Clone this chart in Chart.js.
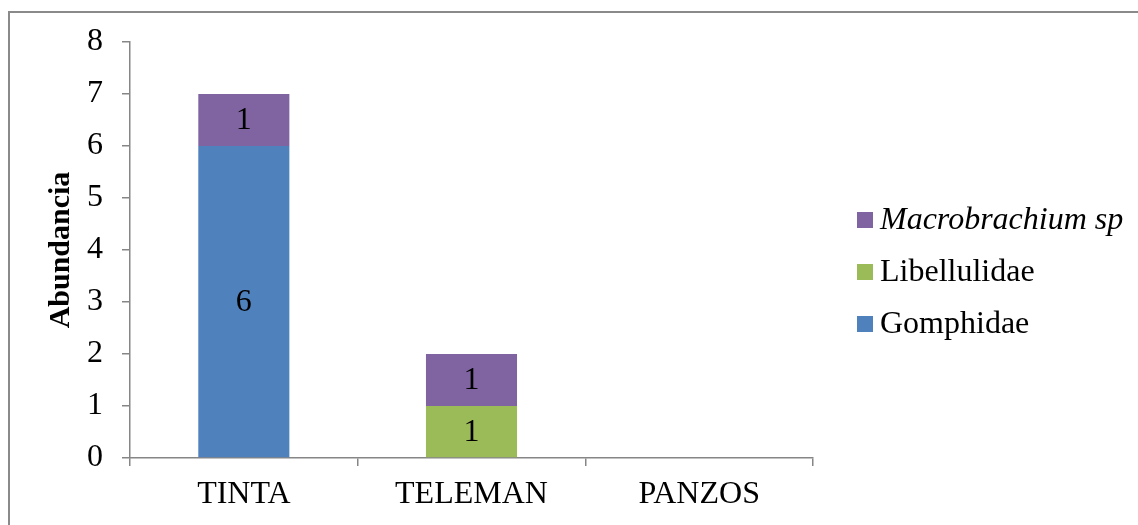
<!DOCTYPE html>
<html>
<head>
<meta charset="utf-8">
<script src="https://cdn.jsdelivr.net/npm/chart.js@4.4.1/dist/chart.umd.min.js"></script>
<style>
  html, body { margin: 0; padding: 0; background: #fff; }
  body { width: 1138px; height: 525px; overflow: hidden; position: relative; }
  #frame { position: absolute; left: 8px; top: 11px; width: 1150px; height: 540px;
           border: 2px solid #8a8a8a; box-sizing: border-box; }
  #wrap { position: absolute; left: 0; top: 0; width: 1138px; height: 525px; }
</style>
</head>
<body>
<div id="frame"></div>
<div id="wrap"><canvas id="c"></canvas></div>
<script>
// Sampling sites and abundance per family
const sites = ['TINTA', 'TELEMAN', 'PANZOS'];
const gomphidae = [6, 0, 0];
const libellulidae = [0, 1, 0];
const macrobrachium = [1, 1, 0];
const yTicks = [0, 1, 2, 3, 4, 5, 6, 7, 8];

const SERIF = "'Liberation Serif', 'Times New Roman', serif";
const FS = 32;
const AXIS = '#868686';

// Writes each non-zero segment's value in its middle
const segmentLabels = {
  id: 'segmentLabels',
  afterDatasetsDraw(chart) {
    const ctx = chart.ctx;
    ctx.save();
    ctx.font = FS + 'px ' + SERIF;
    ctx.fillStyle = '#000';
    ctx.textAlign = 'center';
    ctx.textBaseline = 'middle';
    chart.data.datasets.forEach((ds, i) => {
      chart.getDatasetMeta(i).data.forEach((bar, j) => {
        const v = ds.data[j];
        if (!v) return;
        const mid = (bar.y + bar.base) / 2;
        ctx.fillText(String(v), bar.x, mid + 1);
      });
    });
    ctx.restore();
  }
};

// Legend at the right, top entry is the last series
const sideLegend = {
  id: 'sideLegend',
  afterDraw(chart) {
    const ctx = chart.ctx;
    const items = chart.data.datasets.slice().reverse();
    ctx.save();
    ctx.textBaseline = 'middle';
    ctx.textAlign = 'left';
    items.forEach((ds, k) => {
      const y = 220 + k * 52;
      ctx.fillStyle = ds.backgroundColor;
      ctx.fillRect(857, y - 8, 16, 16);
      ctx.fillStyle = '#000';
      ctx.font = (ds.italic ? 'italic ' : '') + FS + 'px ' + SERIF;
      ctx.fillText(ds.label, 880, y + 1);
    });
    ctx.restore();
  }
};

new Chart(document.getElementById('c'), {
  type: 'bar',
  data: {
    labels: sites,
    datasets: [
      { label: 'Gomphidae', data: gomphidae, backgroundColor: '#4F81BD' },
      { label: 'Libellulidae', data: libellulidae, backgroundColor: '#9BBB59' },
      { label: 'Macrobrachium sp', data: macrobrachium, backgroundColor: '#8064A2', italic: true }
    ]
  },
  options: {
    responsive: true,
    maintainAspectRatio: false,
    animation: false,
    events: [],
    datasets: { bar: { categoryPercentage: 1, barPercentage: 0.4, borderWidth: 0 } },
    layout: { padding: { left: 0, top: 42, right: 325, bottom: 0 } },
    plugins: { legend: { display: false }, tooltip: { enabled: false } },
    scales: {
      x: {
        stacked: true,
        grid: { drawOnChartArea: false, offset: true, color: AXIS, lineWidth: 1.5, tickLength: 8 },
        border: { color: AXIS, width: 1.5 },
        ticks: { color: '#000', font: { family: SERIF, size: FS, lineHeight: 1 }, padding: 13, maxRotation: 0 },
        afterFit(s) { s.height = 67; }
      },
      y: {
        stacked: true,
        min: 0,
        max: 8,
        afterBuildTicks(s) { s.ticks = yTicks.map(v => ({ value: v })); },
        grid: { drawOnChartArea: false, color: AXIS, lineWidth: 1.5, tickLength: 8 },
        border: { color: AXIS, width: 1.5 },
        ticks: { color: '#000', font: { family: SERIF, size: FS }, padding: 19 },
        title: {
          display: true,
          text: 'Abundancia',
          color: '#000',
          font: { family: SERIF, size: 30, weight: 'bold', lineHeight: 1 },
          padding: { top: 46, bottom: 0 }
        },
        afterFit(s) { s.width = 130; }
      }
    }
  },
  plugins: [segmentLabels, sideLegend]
});
</script>
</body>
</html>
